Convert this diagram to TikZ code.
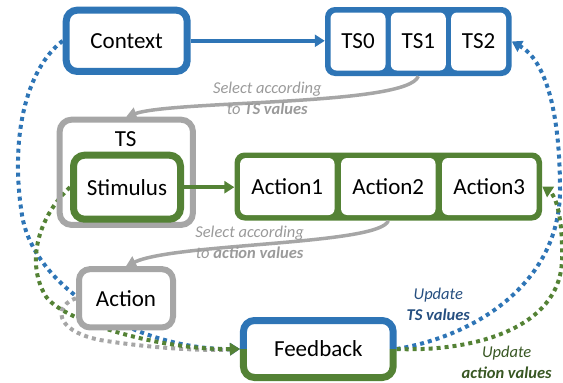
\documentclass[tikz,border=0pt]{standalone}
\usepackage{fontspec}
\setmainfont{Carlito}
\usetikzlibrary{matrix, arrows.meta, backgrounds}
\definecolor{tsblue}{HTML}{2E75B6}
\definecolor{actgreen}{HTML}{548235}
\definecolor{boxgray}{HTML}{A6A6A6}
\definecolor{labelgray}{HTML}{9A9A9A}
\definecolor{notebluetext}{HTML}{264F80}
\definecolor{notegreentext}{HTML}{385723}
\tikzset{>={Triangle[length=10pt,width=12pt]}}

\begin{document}
\begin{tikzpicture}[x=1pt, y=-1pt,
  bigfont/.style={font=\fontsize{23}{27}\selectfont},
  box/.style={bigfont, line width=7pt, fill=white, rounded corners=11pt, inner sep=0pt},
  cellrow/.style={matrix of nodes, inner sep=5.5pt, rounded corners=10pt,
    nodes={bigfont, fill=white, rounded corners=6pt, inner sep=0pt, anchor=center}},
  note/.style={font=\fontsize{16.5}{21}\selectfont\itshape, align=center},
  selarrow/.style={draw=boxgray, line width=3.5pt, ->},
  dots/.style={line width=4pt, dash pattern=on 4pt off 4pt, ->}]
\useasboundingbox (0,0) rectangle (563,383);

% context and task sets
\node[box, draw=tsblue, minimum width=121pt, minimum height=61.3pt] (context) at (126.7,40.8) {Context};
\matrix[cellrow, fill=tsblue, column sep=5.3pt, nodes={minimum width=55pt, minimum height=58pt}] (tsvals) at (418.3,41.5)
{TS0 & TS1 & TS2 \\};
\draw[tsblue, line width=4pt, ->] (context.east) -- (context.east -| tsvals.west);

% chosen TS with stimulus and actions
\node[draw=boxgray, line width=6pt, rounded corners=12pt, minimum width=133.3pt, minimum height=105.3pt] (tsbox) at (126.3,172.3) {};
\node[bigfont] (tslabel) at (125.7,139.3) {TS};
\node[box, draw=actgreen, minimum width=107pt, minimum height=64pt] (stimulus) at (127,187.2) {Stimulus};
\matrix[cellrow, fill=actgreen, column sep=6.5pt, nodes={minimum width=94.5pt, minimum height=57pt}] (actions) at (388.3,186.5)
{Action1 & Action2 & Action3 \\};
\draw[actgreen, line width=4pt, ->] (stimulus.east) -- (stimulus.east -| actions.west);

\node[box, draw=boxgray, line width=6pt, minimum width=94pt, minimum height=58.3pt] (action) at (126,298.3) {Action};
\node[box, minimum width=149.7pt, minimum height=57pt, outer sep=0pt] (fb) at (318.3,349) {Feedback};
\draw[tsblue, line width=7pt, rounded corners=11pt] (fb.west) |- (fb.north) -| (fb.east);
\draw[actgreen, line width=7pt, rounded corners=11pt] (fb.west) |- (fb.south) -| (fb.east);

% selection
\draw[selarrow] (tsvals.south -| tsvals-1-2) .. controls (408,106) and (175,100) .. (tsbox.north);
\draw[selarrow] (actions.south -| actions-1-2) .. controls (380,245) and (175,243) .. (action.north);
\node[note, text=labelgray] (selts) at (267.3,98.3) {Select according\\to \textbf{TS values}};
\node[note, text=labelgray] (selact) at (249.6,242.2) {Select according\\to \textbf{action values}};
\node[note, text=notebluetext] (updts) at (438.3,304.2) {Update\\\textbf{TS values}};
\node[note, text=notegreentext] (updact) at (506.7,362.5) {Update\\\textbf{action values}};

% feedback loops
\begin{scope}[on background layer]
\draw[dots, boxgray] (action.west) .. controls (55,305) and (52,330) .. (100,340) .. controls (150,348) and (200,351) .. ([xshift=-3.5pt]fb.west);
\draw[dots, tsblue] (context.west) .. controls (25,70) and (10,140) .. (22,215) .. controls (34,290) and (140,350) .. ([xshift=-3.5pt]fb.west);
\draw[dots, actgreen] (stimulus.west) .. controls (40,215) and (25,260) .. (45,295) .. controls (60,321) and (160,350) .. ([xshift=-3.5pt]fb.west);
\draw[dots, tsblue] ([xshift=3.5pt]fb.east) .. controls (480,335) and (560,280) .. (560,190) .. controls (560,110) and (545,60) .. (tsvals.east);
\draw[dots, actgreen] ([xshift=3.5pt]fb.east) .. controls (470,352) and (560,330) .. (562,260) .. controls (563,215) and (555,195) .. (actions.east);
\end{scope}
\end{tikzpicture}
\end{document}
